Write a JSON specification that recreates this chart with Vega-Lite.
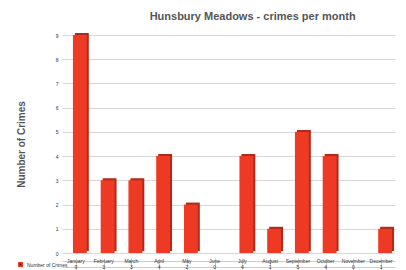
{
  "$schema": "https://vega.github.io/schema/vega-lite/v6.json",
  "padding": {"left": 16, "top": 11, "right": 6, "bottom": 0},
  "background": "white",
  "config": {"font": "Liberation Sans", "view": {"stroke": null}},
  "title": {"text": "Hunsbury Meadows - crimes per month", "fontSize": 11, "fontWeight": "bold", "color": "#555555", "anchor": "middle", "dx": 47, "offset": 11},
  "datasets": {
    "crimes": [
      {"month": "January", "count": 9, "series": "Number of Crimes"},
      {"month": "February", "count": 3, "series": "Number of Crimes"},
      {"month": "March", "count": 3, "series": "Number of Crimes"},
      {"month": "April", "count": 4, "series": "Number of Crimes"},
      {"month": "May", "count": 2, "series": "Number of Crimes"},
      {"month": "June", "count": 0, "series": "Number of Crimes"},
      {"month": "July", "count": 4, "series": "Number of Crimes"},
      {"month": "August", "count": 1, "series": "Number of Crimes"},
      {"month": "September", "count": 5, "series": "Number of Crimes"},
      {"month": "October", "count": 4, "series": "Number of Crimes"},
      {"month": "November", "count": 0, "series": "Number of Crimes"},
      {"month": "December", "count": 1, "series": "Number of Crimes"}
    ]
  },
  "data": {"name": "crimes"},
  "spacing": 2,
  "vconcat": [
    {
      "width": 333,
      "height": 218,
      "encoding": {
        "x": {"field": "month", "type": "nominal", "sort": null,
              "scale": {"paddingInner": 0, "paddingOuter": 0},
              "axis": null},
        "y": {"field": "count", "type": "quantitative",
              "scale": {"domain": [0, 9]},
              "axis": {"title": "Number of Crimes", "titleFontSize": 10, "titleFontWeight": "bold", "titleColor": "#555555", "titlePadding": 29,
                       "tickCount": 9, "labelFontSize": 5, "labelColor": "#333", "labelPadding": 4, "ticks": false, "domain": false, "gridColor": "#d8d8d8"}}
      },
      "layer": [
        {"mark": {"type": "bar", "color": "#b02a1a", "xOffset": 6, "yOffset": -2, "width": {"band": 0.5}}},
        {"mark": {"type": "bar", "color": "#ee3a24", "xOffset": 4, "width": {"band": 0.5}}}
      ]
    },
    {
      "width": 333,
      "height": 12,
      "encoding": {
        "x": {"field": "month", "type": "nominal", "sort": null,
              "axis": {"title": null, "labels": false, "ticks": false, "domain": false, "grid": true, "bandPosition": 0, "gridColor": "#cccccc"}}
      },
      "layer": [
        {
          "mark": {"type": "text", "fontSize": 5, "color": "#333"},
          "encoding": {
            "y": {"datum": "month", "type": "nominal",
                  "scale": {"domain": ["month", "Number of Crimes"], "paddingInner": 0, "paddingOuter": 0},
                  "axis": {"title": null, "labels": false, "ticks": false, "domain": false, "grid": true, "bandPosition": 0, "gridColor": "#cccccc"}},
            "text": {"field": "month"}
          }
        },
        {
          "mark": {"type": "text", "fontSize": 5, "color": "#333"},
          "encoding": {
            "y": {"datum": "Number of Crimes", "type": "nominal"},
            "text": {"field": "count"},
            "color": {"field": "series", "type": "nominal", "scale": {"range": ["#333333"]},
                      "legend": {"title": null, "orient": "none", "legendX": -44, "legendY": 227, "labelFontSize": 5, "symbolType": "square", "symbolSize": 12, "labelColor": "#333",
                                 "encode": {"symbols": {"update": {"fill": {"value": "#ee3a24"}, "stroke": {"value": "#ee3a24"}}}}}}
          }
        }
      ]
    }
  ]
}
